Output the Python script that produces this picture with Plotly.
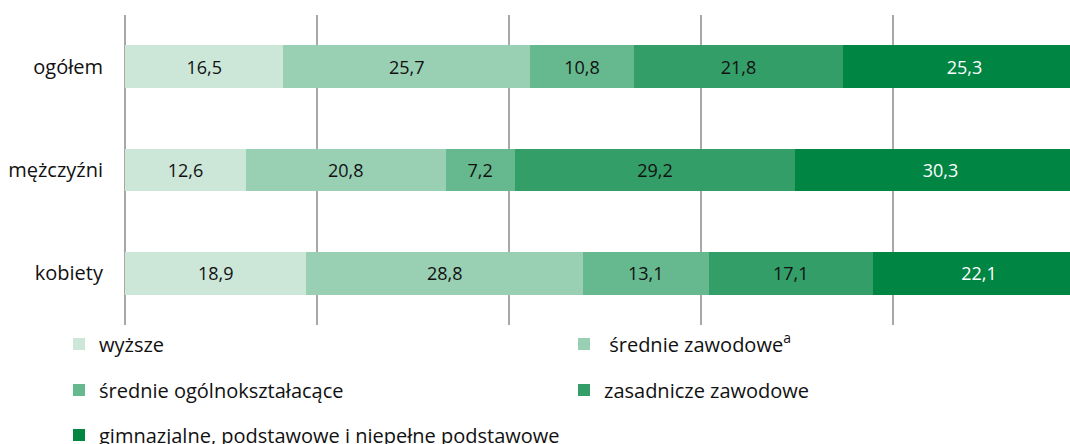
import plotly.graph_objects as go

categories = ["ogółem", "mężczyźni", "kobiety"]
series_names = [
    "wyższe",
    " średnie zawodowe<sup>a</sup>",
    "średnie ogólnokształacące",
    "zasadnicze zawodowe",
    "gimnazjalne, podstawowe i niepełne podstawowe",
]
wyzsze = [16.5, 12.6, 18.9]
srednie_zawodowe = [25.7, 20.8, 28.8]
srednie_ogolne = [10.8, 7.2, 13.1]
zasadnicze = [21.8, 29.2, 17.1]
gimnazjalne = [25.3, 30.3, 22.1]
values = [wyzsze, srednie_zawodowe, srednie_ogolne, zasadnicze, gimnazjalne]
colors = ["#cce6d8", "#99cfb3", "#66b88e", "#339e68", "#008542"]
text_colors = ["#111111", "#111111", "#111111", "#111111", "#ffffff"]
grid_ticks = [0, 20, 40, 60, 80]

# legend placement (pixels from top-left of the page)
legend_ids = ["legend", "legend2", "legend3", "legend4", "legend5"]
legend_x = [59, 564, 59, 564, 59]
legend_y = [344, 344, 390, 390, 435]

FONT = "Open Sans"
W, H = 1070, 444

fig = go.Figure()
for name, vals, col, tcol, lg in zip(series_names, values, colors, text_colors, legend_ids):
    fig.add_trace(go.Bar(
        y=categories, x=vals, name=name, orientation="h",
        marker=dict(color=col, line=dict(width=0)),
        text=vals, texttemplate="%{x:.1f}", textposition="inside",
        insidetextanchor="middle", constraintext="none",
        textfont=dict(color=tcol, size=18, family=FONT),
        legend=lg, showlegend=True, hoverinfo="skip",
    ))

legends = {}
for lg, lx, ly in zip(legend_ids, legend_x, legend_y):
    legends[lg] = dict(
        orientation="h", xref="container", yref="container",
        x=lx / W, xanchor="left", y=1 - ly / H, yanchor="middle",
        font=dict(size=20, family=FONT, color="#111111"),
        itemwidth=30, bgcolor="rgba(0,0,0,0)",
    )

fig.update_layout(
    width=W, height=H,
    showlegend=True,
    margin=dict(l=125, r=0, t=15, b=119, autoexpand=False),
    barmode="stack", bargap=0.585,
    plot_bgcolor="white", paper_bgcolor="white",
    separators=", ",
    font=dict(family=FONT, size=20, color="#111111"),
    xaxis=dict(range=[0, 945 / 9.6], tickvals=grid_ticks, showticklabels=False,
               showgrid=True, gridcolor="#a8a8a8", gridwidth=2,
               zeroline=True, zerolinecolor="#a8a8a8", zerolinewidth=2,
               showline=False, fixedrange=True),
    yaxis=dict(autorange="reversed", showgrid=False, showline=False, ticks="",
               automargin=False, ticklabelstandoff=21,
               tickfont=dict(size=20, family=FONT, color="#111111")),
    **legends,
)

fig.write_html("out.html", config={"displayModeBar": False},
               post_script="document.body.style.margin='0';")
